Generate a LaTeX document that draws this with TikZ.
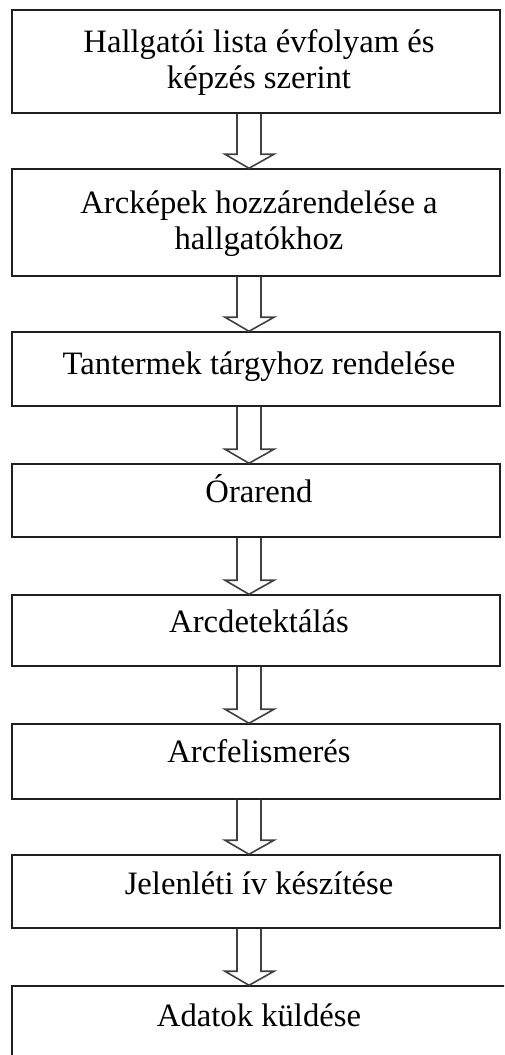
\documentclass[tikz,border=0pt]{standalone}
\usepackage{fontspec}
\setmainfont{Liberation Serif}
\usetikzlibrary{calc}
\begin{document}
\begin{tikzpicture}[x=0.75pt,y=-0.75pt,
  box/.style={draw=black!88,line width=1.1pt,fill=white,inner sep=0pt,
    minimum width=366pt},
  lbl/.style={font=\fontsize{24.5}{26.5}\selectfont,align=center,inner sep=0pt,anchor=base},
  arr/.style={draw=black!75,line width=1.2pt,line join=miter}]
\useasboundingbox (0,0) rectangle (504,1055);
\clip (0,0) rectangle (504,1055);
\newcommand\blockarr[2]{%
  \draw[arr] ($(#1.south)+(-19,0)$) -- ($(#2.north -| #1.south)+(-19,-14)$)
    -- ($(#2.north -| #1.south)+(-31,-14)$) -- ($(#2.north -| #1.south)+(-7,0)$)
    -- ($(#2.north -| #1.south)+(18,-14)$) -- ($(#2.north -| #1.south)+(5,-14)$)
    -- ($(#1.south)+(5,0)$);}
\node[box,minimum height=77.25pt] (b1) at (256,61.5) {};
\node[box,minimum height=80.25pt] (b2) at (256,222.5) {};
\node[box,minimum height=55.5pt]  (b3) at (256,369) {};
\node[box,minimum height=54.75pt] (b4) at (256,500.5) {};
\node[box,minimum height=53.25pt] (b5) at (256,630.5) {};
\node[box,minimum height=56.25pt] (b6) at (256,761.5) {};
\node[box,minimum height=54.75pt] (b7) at (256,891.5) {};
\node[box,minimum height=55.5pt,minimum width=373.5pt] (b8) at (261,1023) {};
\node[lbl] (t1) at ($(b1.north)+(3,79)$) {Hallgatói lista évfolyam és\\képzés szerint};
\node[lbl] (t2) at ($(b2.north)+(3,81)$) {Arcképek hozzárendelése a\\hallgatókhoz};
\node[lbl] (t3) at ($(b3.north)+(3,43)$) {Tantermek tárgyhoz rendelése};
\node[lbl] (t4) at ($(b4.north)+(3,39)$) {Órarend};
\node[lbl] (t5) at ($(b5.north)+(3,38)$) {Arcdetektálás};
\node[lbl] (t6) at ($(b6.north)+(3,39)$) {Arcfelismerés};
\node[lbl] (t7) at ($(b7.north)+(3,40)$) {Jelenléti ív készítése};
\node[lbl] (t8) at ($(b8.north)+(-2,41)$) {Adatok küldése};
\blockarr{b1}{b2}
\blockarr{b2}{b3}
\blockarr{b3}{b4}
\blockarr{b4}{b5}
\blockarr{b5}{b6}
\blockarr{b6}{b7}
\blockarr{b7}{b8}
\end{tikzpicture}
\end{document}
